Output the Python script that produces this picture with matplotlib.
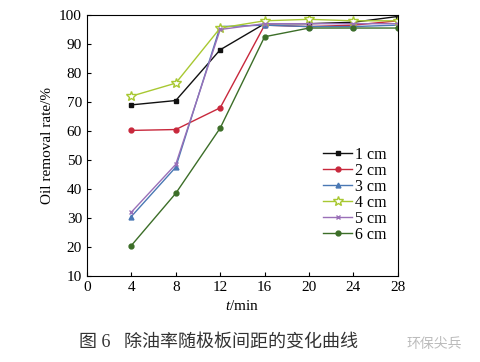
import matplotlib.pyplot as plt

plt.rcParams['font.family'] = ['Liberation Serif', 'Noto Sans CJK SC']
plt.rcParams['mathtext.fontset'] = 'custom'
plt.rcParams['mathtext.it'] = 'Liberation Serif:italic'
plt.rcParams['mathtext.rm'] = 'Liberation Serif'

# data
t = [4, 8, 12, 16, 20, 24, 28]
labels = ['1 cm', '2 cm', '3 cm', '4 cm', '5 cm', '6 cm']
r1 = [69.0, 70.5, 88.0, 97.0, 97.0, 97.5, 99.5]
r2 = [60.2, 60.5, 68.0, 96.5, 96.0, 96.5, 98.0]
r3 = [30.5, 47.5, 96.0, 96.5, 96.0, 96.0, 96.5]
r4 = [72.0, 76.5, 95.5, 98.0, 98.5, 98.0, 98.0]
r5 = [32.0, 48.5, 95.0, 97.0, 97.0, 97.0, 97.0]
r6 = [20.5, 38.5, 61.0, 92.5, 95.5, 95.5, 95.5]

colors = ['#111111', '#c8283c', '#4a78b4', '#a8c832', '#9a70b8', '#3c6e28']
markers = ['s', 'o', '^', '*', 'x', 'o']

fig = plt.figure(figsize=(4.8, 3.62), dpi=100)
ax = fig.add_axes([0.181, 0.2376, 0.648, 0.721])

for y, lab, c, m in zip([r1, r2, r3, r4, r5, r6], labels, colors, markers):
    if m == '*':
        ax.plot(t, y, color=c, marker=m, ms=7, mfc='white', mec=c, lw=1.0, label=lab)
    else:
        ax.plot(t, y, color=c, marker=m, ms=3.5, lw=1.0, label=lab)

ax.set_xlim(0, 28)
ax.set_ylim(10, 100)
ax.set_xticks(range(0, 29, 4))
ax.set_yticks(range(10, 101, 10))
ax.tick_params(direction='in', labelsize=11, length=3)
ax.set_xlabel(r'$\it{t}$/min', fontsize=11, labelpad=4)
ax.set_ylabel('Oil removal rate/%', fontsize=11)
ax.legend(loc='upper left', bbox_to_anchor=(0.74, 0.52), frameon=False,
          fontsize=11.5, handlelength=1.8, labelspacing=0.0, borderaxespad=0,
          handletextpad=0.2)

fig.text(0.455, 0.04, '图 6   除油率随极板间距的变化曲线', ha='center', fontsize=13,
         color='#333333')
fig.text(0.905, 0.04, '环保尖兵', ha='center', fontsize=10, color='#bbbbbb')

fig.savefig('out.png', dpi=100)
